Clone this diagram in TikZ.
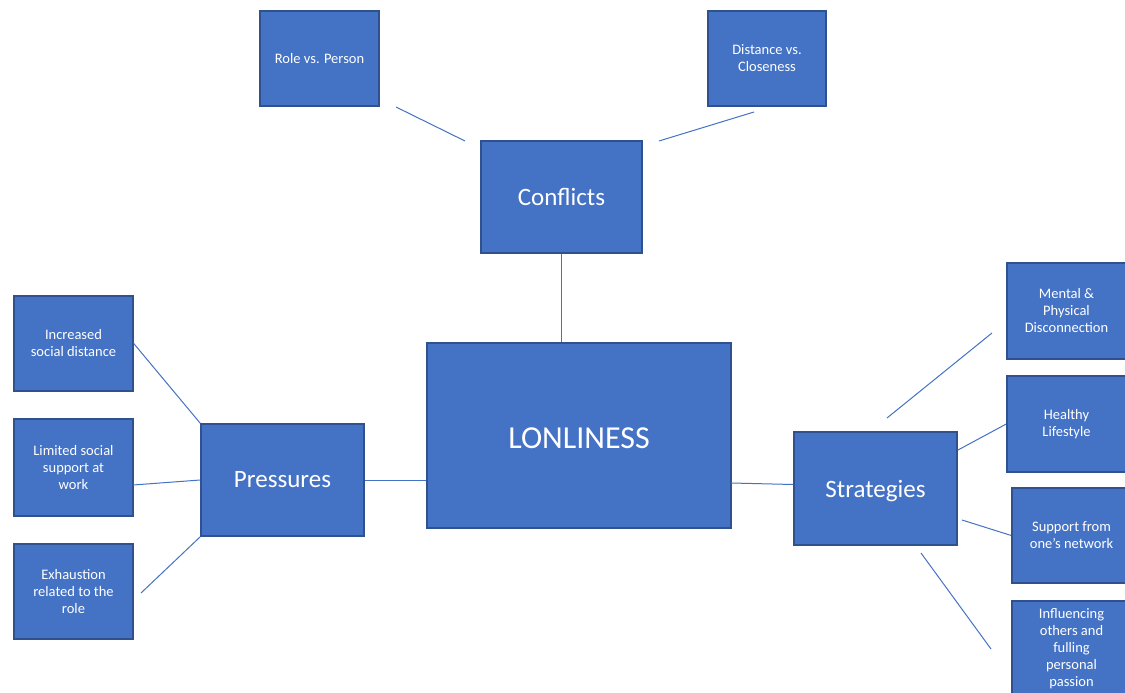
\documentclass[tikz,border=0pt]{standalone}
\usepackage{fontspec}
\setmainfont{Carlito}
\definecolor{boxfill}{HTML}{4472C4}
\definecolor{boxline}{HTML}{2F528F}
\definecolor{conn}{HTML}{4472C4}
\begin{document}
\begin{tikzpicture}[x=1pt,y=-1pt,
  box/.style={rectangle, draw=boxline, fill=boxfill, line width=1.5pt, text=white, align=center, inner sep=0pt},
  small/.style={box, minimum width=119pt, minimum height=95pt, font=\fontsize{14.5}{17}\selectfont},
  big/.style={box, font=\fontsize{25}{30}\selectfont},
  link/.style={draw=conn, line width=1pt}]
\clip (0,0) rectangle (1125,693);
\fill[white] (0,0) rectangle (1125,693);
% nodes
\node[small] (role) at (319.5,58.5) {Role vs. Person};
\node[small, minimum width=118pt] (dist) at (767,58.5) {Distance vs.\\Closeness};
\node[big, minimum width=161pt, minimum height=112pt] (conf) at (561.5,197) {Conflicts};
\node[box, minimum width=304pt, minimum height=185pt, font=\fontsize{32}{38}\selectfont, text height=25pt, text depth=0pt] (lon) at (579,435.5) {LONLINESS};
\node[big, minimum width=163pt, minimum height=112pt, text height=20pt, text depth=5pt] (pres) at (282.5,480) {Pressures};
\node[big, minimum width=163pt, minimum height=113pt, text height=22pt, text depth=5pt] (strat) at (875.5,488.5) {Strategies};
\node[small] (inc) at (73.5,343.5) {Increased\\social distance};
\node[small, minimum height=97pt] (lim) at (73.5,467.5) {Limited social\\support at\\work};
\node[small] (exh) at (73.5,591.5) {Exhaustion\\related to the\\role};
\node[small, minimum height=96pt] (ment) at (1066.5,311) {Mental \&\\Physical\\Disconnection};
\node[small, minimum height=96pt] (heal) at (1066.5,424) {Healthy\\Lifestyle};
\node[small] (supp) at (1071.5,535.5) {Support from\\one’s network};
\node[small, minimum height=96pt] (infl) at (1071.5,649) {Influencing\\others and\\fulling\\personal\\passion};
% free connector ends
\coordinate (r1) at (396,107);
\coordinate (r2) at (465,141);
\coordinate (d1) at (754,112);
\coordinate (d2) at (659,141);
\coordinate (l1) at (133,485);
\coordinate (e1) at (141,593);
\coordinate (s0) at (731,483);
\coordinate (m1) at (887,418);
\coordinate (m2) at (992,333);
\coordinate (h1) at (958,450);
\coordinate (u1) at (962,520);
\coordinate (f1) at (921,553);
\coordinate (f2) at (991,649);
% connectors
\draw[link] (r1) -- (r2);
\draw[link] (d1) -- (d2);
\draw[link] (conf.south) -- (conf.south |- lon.north);
\draw[link] (inc.east) -- (pres.north west);
\draw[link] (l1) -- (pres.west);
\draw[link] (e1) -- (pres.south west);
\draw[link] (pres.east) -- (pres.east -| lon.west);
\draw[link] (s0) -- ([yshift=4pt]strat.west);
\draw[link] (m1) -- (m2);
\draw[link] (h1) -- (heal.west);
\draw[link] (u1) -- (supp.west);
\draw[link] (f1) -- (f2);
\end{tikzpicture}
\end{document}
